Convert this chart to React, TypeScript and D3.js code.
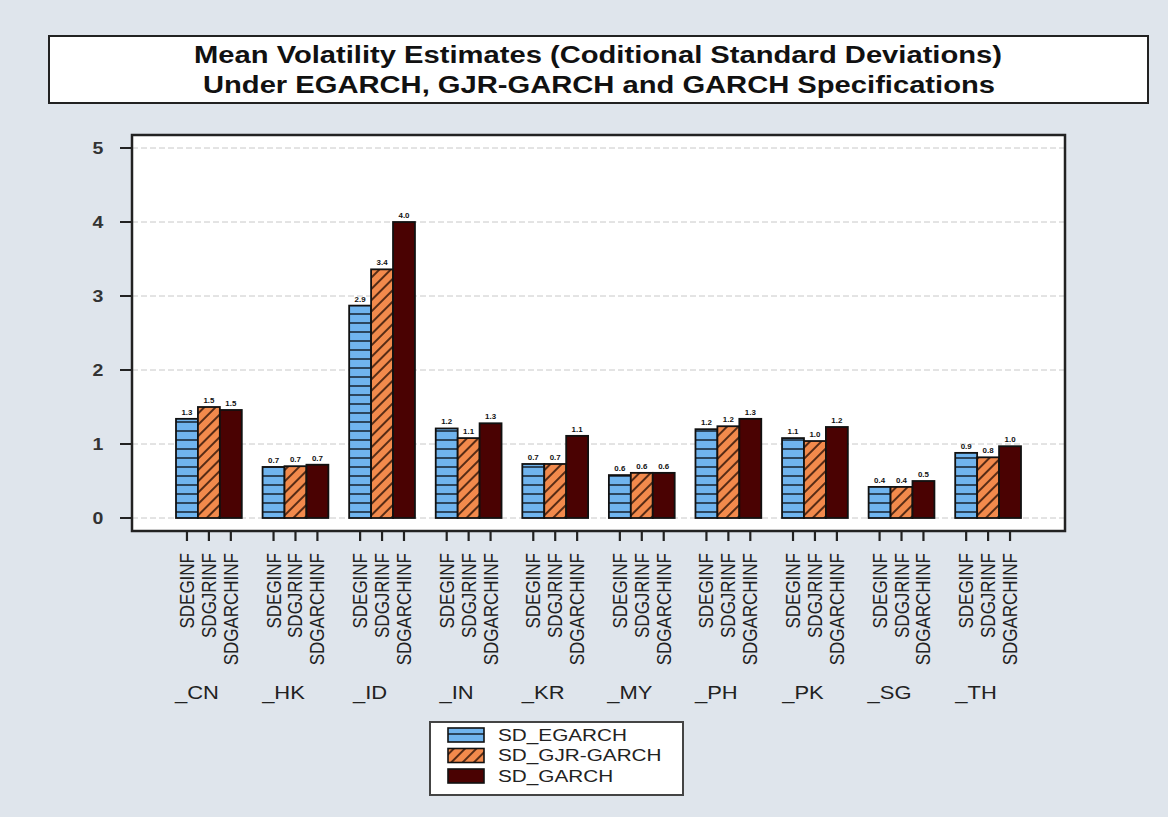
import { useMemo } from 'react';
import * as d3 from 'd3';

const countries = ['_CN', '_HK', '_ID', '_IN', '_KR', '_MY', '_PH', '_PK', '_SG', '_TH'];
const seriesKeys = ['SDEGINF', 'SDGJRINF', 'SDGARCHINF'];
const seriesNames = ['SD_EGARCH', 'SD_GJR-GARCH', 'SD_GARCH'];

// values
const egarch = [1.34, 0.69, 2.87, 1.21, 0.73, 0.58, 1.2, 1.08, 0.42, 0.88];
const gjr = [1.5, 0.7, 3.36, 1.08, 0.73, 0.61, 1.24, 1.04, 0.42, 0.82];
const garch = [1.46, 0.72, 4.0, 1.28, 1.11, 0.61, 1.34, 1.23, 0.5, 0.97];

const yTicks = [0, 1, 2, 3, 4, 5];

const W = 1168;
const H = 817;
const PLOT = { left: 132, top: 135, right: 1065, bottom: 531 };
const FILLS = ['url(#pat-blue)', 'url(#pat-orange)', '#4a0202'];
const FONT = 'Arial, "Liberation Sans", Helvetica, sans-serif';
const SX = 1.22; // the source picture is stretched sideways

export default function App() {
  const series = [egarch, gjr, garch];

  const x0 = useMemo(
    () => d3.scaleBand<string>().domain(countries).range([176, 1021]).paddingInner(0.24).paddingOuter(0),
    [],
  );
  const x1 = useMemo(
    () => d3.scaleBand<string>().domain(seriesKeys).range([0, x0.bandwidth()]),
    [x0],
  );
  const y = useMemo(() => d3.scaleLinear().domain([0, 5]).range([518, 148]), []);
  const fmt = d3.format('.1f');

  return (
    <svg
      width={W}
      height={H}
      style={{ position: 'fixed', left: 0, top: 0, display: 'block' }}
      fontFamily={FONT}
    >
      <defs>
        <pattern id="pat-blue" patternUnits="userSpaceOnUse" width={10} height={9}>
          <rect width={10} height={9} fill="#70b4ee" />
          <line x1={0} x2={10} y1={8} y2={8} stroke="#1a2a3a" strokeWidth={1.6} />
        </pattern>
        <pattern
          id="pat-orange"
          patternUnits="userSpaceOnUse"
          width={8}
          height={8}
          patternTransform="rotate(-45)"
        >
          <rect width={8} height={8} fill="#f28a4c" />
          <line x1={0} x2={8} y1={4} y2={4} stroke="#3a1a0a" strokeWidth={1.7} />
        </pattern>
      </defs>

      <rect width={W} height={H} fill="#dfe5ec" />

      {/* title box */}
      <rect x={49} y={36} width={1099} height={67} fill="#fff" stroke="#222" strokeWidth={2} />
      <text
        x={598}
        y={63}
        textAnchor="middle"
        fontSize={23}
        fontWeight="bold"
        fill="#111"
        textLength={808}
        lengthAdjust="spacingAndGlyphs"
      >
        Mean Volatility Estimates (Coditional Standard Deviations)
      </text>
      <text
        x={599}
        y={93}
        textAnchor="middle"
        fontSize={23}
        fontWeight="bold"
        fill="#111"
        textLength={792}
        lengthAdjust="spacingAndGlyphs"
      >
        Under EGARCH, GJR-GARCH and GARCH Specifications
      </text>

      {/* plot area */}
      <rect
        x={PLOT.left}
        y={PLOT.top}
        width={PLOT.right - PLOT.left}
        height={PLOT.bottom - PLOT.top}
        fill="#fff"
      />
      {yTicks.map((t) => (
        <g key={t}>
          <line
            x1={PLOT.left}
            x2={PLOT.right}
            y1={y(t)}
            y2={y(t)}
            stroke="#c8c8c8"
            strokeWidth={1}
            strokeDasharray="6 3"
          />
          <line x1={PLOT.left - 12} x2={PLOT.left} y1={y(t)} y2={y(t)} stroke="#222" strokeWidth={2} />
          <text
            transform={`translate(${PLOT.left - 34},${y(t)}) scale(${SX},1)`}
            dy="0.35em"
            textAnchor="middle"
            fontSize={16}
            fontWeight="bold"
            fill="#333"
          >
            {t}
          </text>
        </g>
      ))}

      {countries.map((c, ci) => (
        <g key={c} transform={`translate(${x0(c)},0)`}>
          {seriesKeys.map((k, si) => {
            const v = series[si][ci];
            const bx = x1(k)!;
            const bw = x1.bandwidth();
            return (
              <g key={k}>
                <rect
                  x={bx}
                  y={y(v)}
                  width={bw}
                  height={y(0) - y(v)}
                  fill={FILLS[si]}
                  stroke="#111"
                  strokeWidth={1.8}
                />
                <text
                  transform={`translate(${bx + bw / 2},${y(v) - 4}) scale(${SX},1)`}
                  textAnchor="middle"
                  fontSize={6.5}
                  fontWeight="bold"
                  fill="#111"
                >
                  {fmt(v)}
                </text>
                <line
                  x1={bx + bw / 2}
                  x2={bx + bw / 2}
                  y1={PLOT.bottom}
                  y2={PLOT.bottom + 10}
                  stroke="#222"
                  strokeWidth={2.2}
                />
                <text
                  transform={`translate(${bx + bw / 2 + 7},${PLOT.bottom + 22}) rotate(-90) scale(1,${SX})`}
                  textAnchor="end"
                  fontSize={17}
                  fill="#222"
                >
                  {k}
                </text>
              </g>
            );
          })}
          <text
            transform={`translate(${x0.bandwidth() / 2 - 12},699) scale(${SX},1)`}
            textAnchor="middle"
            fontSize={18}
            fill="#222"
          >
            {c}
          </text>
        </g>
      ))}

      {/* plot frame */}
      <rect
        x={PLOT.left}
        y={PLOT.top}
        width={PLOT.right - PLOT.left}
        height={PLOT.bottom - PLOT.top}
        fill="none"
        stroke="#222"
        strokeWidth={2.5}
      />

      {/* legend */}
      <rect x={430} y={722} width={253} height={73} fill="#fff" stroke="#444" strokeWidth={2} />
      {seriesNames.map((n, i) => (
        <g key={n} transform={`translate(0,${735 + i * 20.5})`}>
          <rect x={448} y={-7} width={36} height={14} fill={FILLS[i]} stroke="#111" strokeWidth={1.6} />
          <text transform={`translate(498,0) scale(${SX},1)`} dy="0.35em" fontSize={17} fill="#222">
            {n}
          </text>
        </g>
      ))}
    </svg>
  );
}
